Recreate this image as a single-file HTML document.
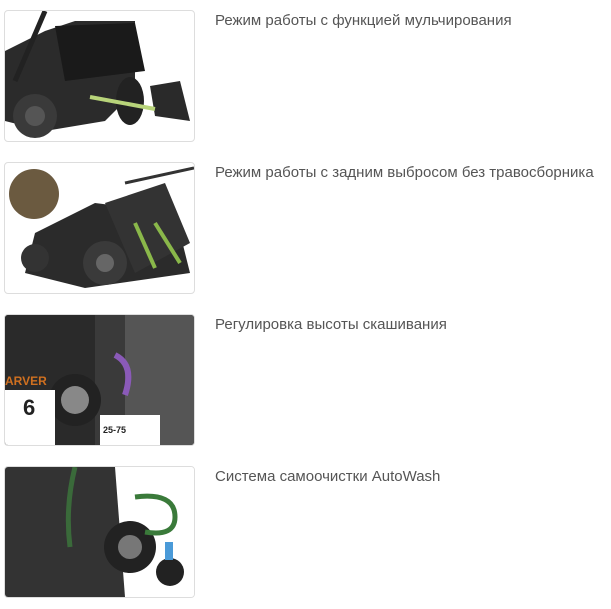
<!DOCTYPE html>
<html><head><meta charset="utf-8"><style>
body{margin:0;width:611px;height:609px;background:#fff;position:relative;overflow:hidden;font-family:"Liberation Sans",sans-serif;}
.box{position:absolute;left:4px;width:189px;height:130px;border:1px solid #ddd;border-radius:4px;background:#fff;overflow:hidden}
.t{position:absolute;left:215px;font-size:15px;color:#555;white-space:nowrap}
</style></head><body>
<div class="box" style="top:10px"><svg width="189" height="130">
<polygon points="0,40 40,20 70,10 130,10 130,80 100,110 40,120 0,110" fill="#2b2b2b"/>
<polygon points="50,15 130,12 140,60 60,70" fill="#1a1a1a"/>
<circle cx="30" cy="105" r="22" fill="#3a3a3a"/><circle cx="30" cy="105" r="10" fill="#555"/>
<ellipse cx="125" cy="90" rx="14" ry="24" fill="#222"/>
<polygon points="145,75 175,70 185,110 150,105" fill="#2a2a2a"/>
<line x1="85" y1="86" x2="150" y2="98" stroke="#b8d47a" stroke-width="4"/>
<line x1="40" y1="0" x2="10" y2="70" stroke="#222" stroke-width="5"/>
</svg></div>
<div class="t" style="top:12px">Режим работы с функцией мульчирования</div>

<div class="box" style="top:162px"><svg width="189" height="130">
<rect x="4" y="6" width="50" height="50" rx="25" fill="#6b5a40"/>
<polygon points="30,70 90,40 170,50 185,110 80,125 20,110" fill="#2b2b2b"/>
<polygon points="100,40 160,20 185,80 130,110" fill="#333"/>
<circle cx="100" cy="100" r="22" fill="#3a3a3a"/><circle cx="100" cy="100" r="9" fill="#666"/>
<circle cx="30" cy="95" r="14" fill="#333"/>
<line x1="130" y1="60" x2="150" y2="105" stroke="#8ab84a" stroke-width="4"/>
<line x1="150" y1="60" x2="175" y2="100" stroke="#8ab84a" stroke-width="4"/>
<line x1="120" y1="20" x2="189" y2="5" stroke="#333" stroke-width="3"/>
</svg></div>
<div class="t" style="top:164px">Режим работы с задним выбросом без травосборника</div>

<div class="box" style="top:314px"><svg width="189" height="130">
<rect x="0" y="0" width="189" height="130" fill="#3a3a3a"/>
<rect x="0" y="0" width="90" height="130" fill="#2a2a2a"/>
<rect x="120" y="0" width="69" height="130" fill="#555"/>
<circle cx="70" cy="85" r="26" fill="#222"/><circle cx="70" cy="85" r="14" fill="#888"/>
<path d="M110,40 q20,10 10,40" stroke="#8a5ab8" stroke-width="6" fill="none"/>
<rect x="0" y="75" width="50" height="55" fill="#fff"/>
<text x="18" y="100" font-size="22" font-weight="bold" fill="#222" font-family="Liberation Sans">6</text>
<rect x="95" y="100" width="60" height="30" fill="#fff"/>
<text x="98" y="118" font-size="9" font-weight="bold" fill="#222" font-family="Liberation Sans">25-75</text>
<text x="0" y="70" font-size="12" font-weight="bold" fill="#d07020" font-family="Liberation Sans">ARVER</text>
</svg></div>
<div class="t" style="top:316px">Регулировка высоты скашивания</div>

<div class="box" style="top:466px"><svg width="189" height="130">
<rect x="0" y="0" width="189" height="130" fill="#fff"/>
<polygon points="0,0 110,0 120,130 0,130" fill="#333"/>
<circle cx="125" cy="80" r="26" fill="#222"/><circle cx="125" cy="80" r="12" fill="#777"/>
<path d="M70,0 q-10,40 -5,80" stroke="#3a6a3a" stroke-width="5" fill="none"/>
<path d="M130,30 q40,-5 40,20 q0,20 -30,15" stroke="#3a7a3a" stroke-width="5" fill="none"/>
<circle cx="165" cy="105" r="14" fill="#222"/>
<rect x="160" y="75" width="8" height="18" fill="#4a9ad8"/>
</svg></div>
<div class="t" style="top:468px">Система самоочистки AutoWash</div>
</body></html>
